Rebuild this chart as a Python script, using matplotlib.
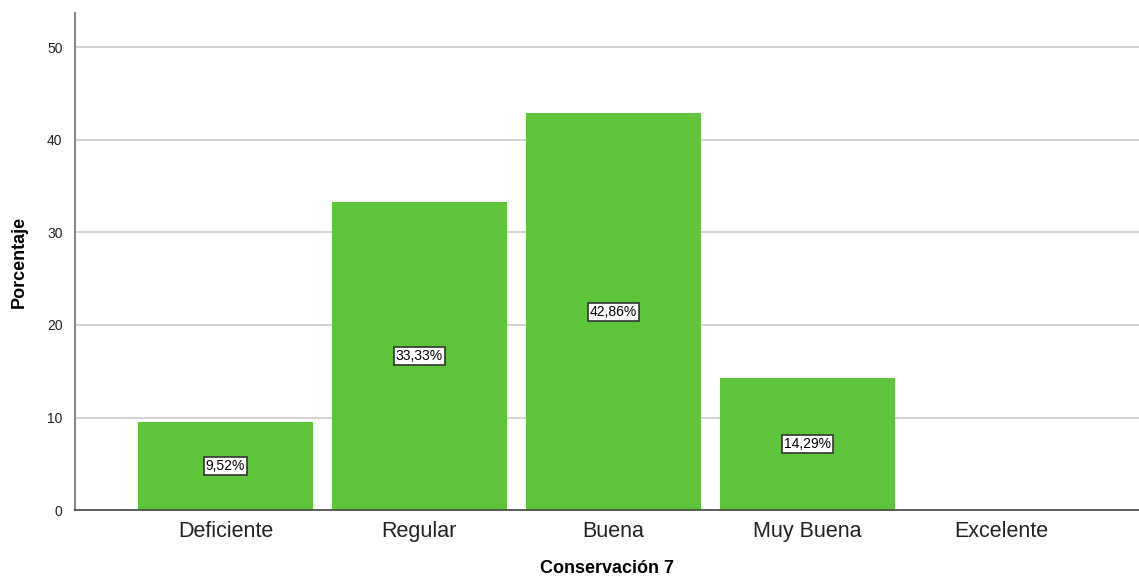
import matplotlib
matplotlib.use('Agg')
import matplotlib.pyplot as plt

categorias = ['Deficiente', 'Regular', 'Buena', 'Muy Buena', 'Excelente']
porcentajes = [9.52, 33.33, 42.86, 14.29, 0.0]
etiquetas = ['9,52%', '33,33%', '42,86%', '14,29%', '']

plt.rcParams['font.family'] = ['Liberation Sans', 'DejaVu Sans']

fig = plt.figure(figsize=(11.39, 5.79), dpi=100)
ax = fig.add_axes([0.0658, 0.119, 0.9342, 0.8585])

xx = range(len(categorias))
ax.bar(xx, porcentajes, width=0.9, color='#5EC43A', zorder=2)
for x, y, lab in zip(xx, porcentajes, etiquetas):
    if lab:
        ax.text(x, y / 2, lab, ha='center', va='center', fontsize=10, zorder=3,
                bbox=dict(boxstyle='square,pad=0.15', fc='white', ec='#333333', lw=1.2))

ax.set_xlim(-0.776, 4.71)
ax.set_ylim(0, 53.7)
ax.set_yticks([0, 10, 20, 30, 40, 50])
ax.yaxis.grid(True, color='#cccccc', lw=1.2, zorder=0)
ax.set_xticks(list(xx))
ax.set_xticklabels(categorias, fontsize=15.5, color='#222222')
ax.tick_params(axis='y', length=0, labelsize=10, pad=9, colors='#222222')
ax.tick_params(axis='x', length=0, pad=8)
for s in ['top', 'right']:
    ax.spines[s].set_visible(False)
ax.spines['left'].set_color('#888888')
ax.spines['left'].set_linewidth(1.5)
ax.spines['bottom'].set_color('#444444')
ax.spines['bottom'].set_linewidth(1.2)

ax.set_ylabel('Porcentaje', fontsize=13, fontweight='bold', labelpad=14)
ax.set_xlabel('Conservación 7', fontsize=13, fontweight='bold', labelpad=13)

plt.savefig('out.png', dpi=100)
